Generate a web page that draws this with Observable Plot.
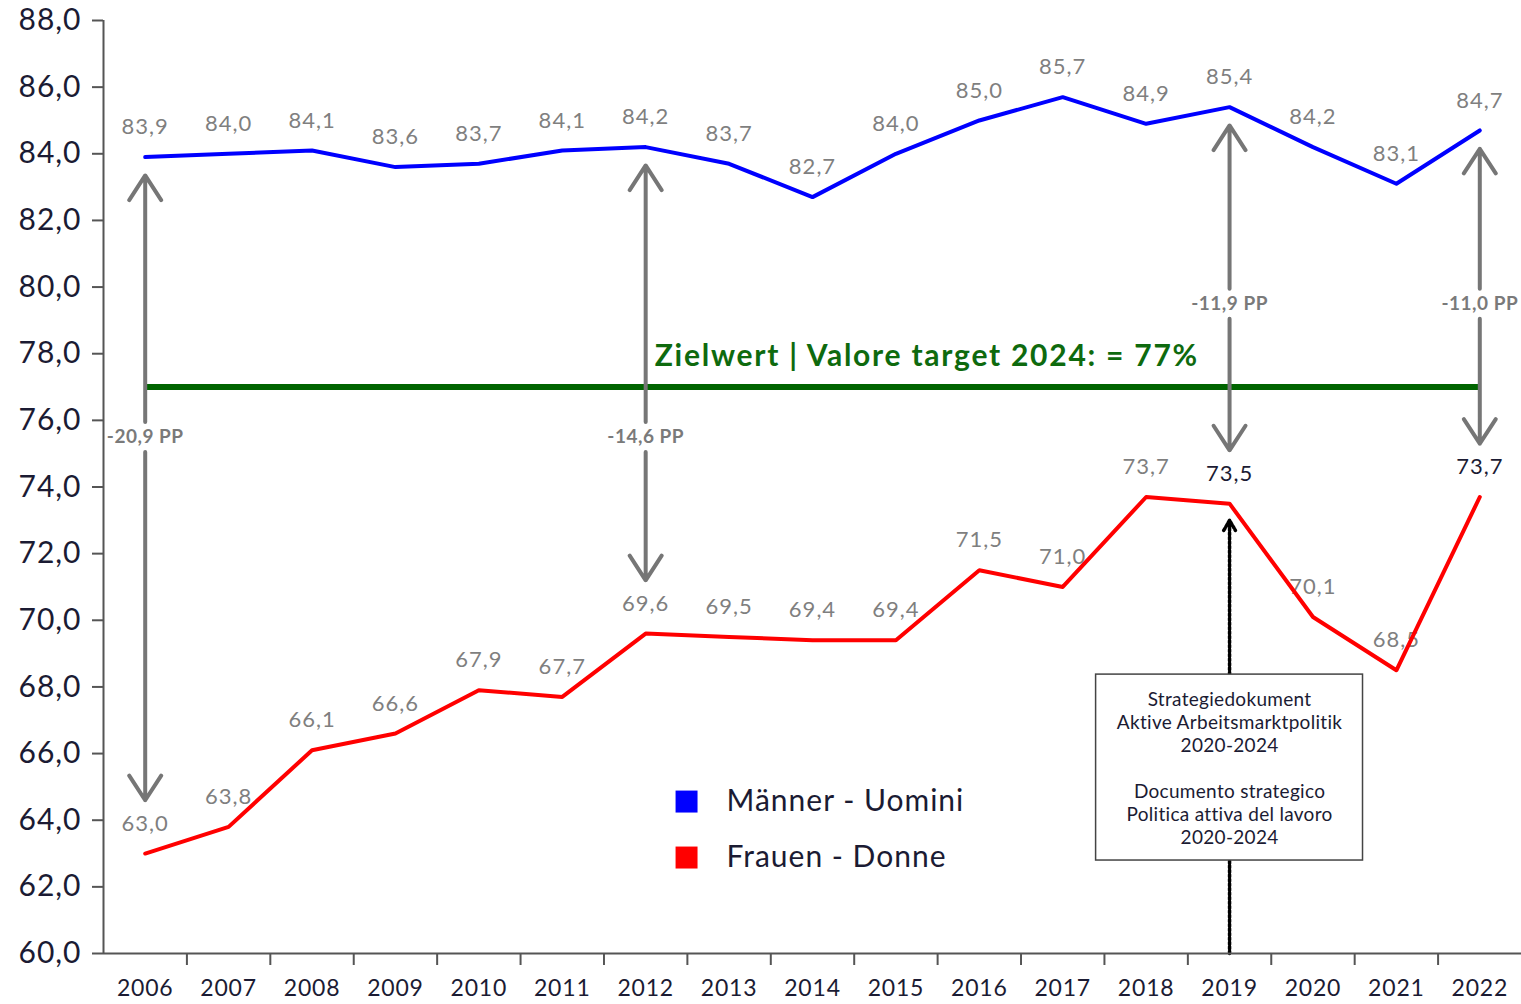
<!DOCTYPE html>
<html><head><meta charset="utf-8">
<script src="https://cdn.jsdelivr.net/npm/d3@7"></script>
<script src="https://cdn.jsdelivr.net/npm/@observablehq/plot@0.6"></script>
<style>
body{margin:0;background:#fff} svg{display:block}
svg text{letter-spacing:1px}
.ls-target text{letter-spacing:1.75px}
.ls-gap text{letter-spacing:0.5px}
.ls-box text{letter-spacing:0.3px}
.ls-x text{letter-spacing:0.8px}
</style>
</head><body><div id="chart"></div>
<script>
const years = [2006,2007,2008,2009,2010,2011,2012,2013,2014,2015,2016,2017,2018,2019,2020,2021,2022];
const maleValues = [83.9,84.0,84.1,83.6,83.7,84.1,84.2,83.7,82.7,84.0,85.0,85.7,84.9,85.4,84.2,83.1,84.7];
const femaleValues = [63.0,63.8,66.1,66.6,67.9,67.7,69.6,69.5,69.4,69.4,71.5,71.0,73.7,73.5,70.1,68.5,73.7];
const yTicks = [60,62,64,66,68,70,72,74,76,78,80,82,84,86,88];
const targetValue = 77;
const targetLabel = "Zielwert | Valore target 2024: = 77%";
const gapYears = [2006, 2012, 2019, 2022];
const gapLabels = ["-20,9 PP", "-14,6 PP", "-11,9 PP", "-11,0 PP"];
const gapLabelLevels = [75.5, 75.5, 79.5, 79.5];
const highlightYears = [2019, 2022];
const strategyYear = 2019;
const strategyText = "Strategiedokument\nAktive Arbeitsmarktpolitik\n2020-2024\n\nDocumento strategico\nPolitica attiva del lavoro\n2020-2024";
const seriesNames = ["Männer - Uomini", "Frauen - Donne"];
const seriesColors = ["#0000ff", "#ff0000"];

const FONT = "Lato, 'Open Sans', sans-serif";
const fmt = v => v.toFixed(1).replace(".", ",");
const male = years.map((y, i) => ({year: y, value: maleValues[i], series: seriesNames[0]}));
const female = years.map((y, i) => ({year: y, value: femaleValues[i], series: seriesNames[1]}));
const gaps = gapYears.map((y, i) => ({
  year: y, label: gapLabels[i], level: gapLabelLevels[i],
  male: maleValues[years.indexOf(y)], female: femaleValues[years.indexOf(y)]
}));
const boundaries = years.slice(0, -1).map(y => y + 0.5);
const xMin = years[0] - 0.5, xMax = years[years.length - 1] + 0.5;
const legend = seriesNames.map((n, i) => ({name: n, color: seriesColors[i], row: i}));
const legendX = 2012.49, legendY0 = 64.56, legendStep = 1.68;
const sFemale = femaleValues[years.indexOf(strategyYear)];

const labelFill = (d) => highlightYears.includes(d.year) && d.series === seriesNames[1] ? "#1b1b33" : "#7f7f7f";

const chart = Plot.plot({
  width: 1521, height: 1004,
  marginLeft: 103, marginRight: 0, marginTop: 20, marginBottom: 51,
  style: {fontFamily: FONT, background: "#fff"},
  x: {domain: [xMin, xMax]},
  y: {domain: [60, 88]},
  marks: [
    Plot.ruleY([targetValue], {x1: years[0], x2: years[years.length - 1], stroke: "#006400", strokeWidth: 6}),
    Plot.text([targetLabel], {x: gapYears[1], y: targetValue, dx: 9, dy: -31, text: d => d, textAnchor: "start",
      fill: "#0e6a0e", fontSize: 30, fontWeight: "bold", className: "ls-target"}),
    // gap arrows (upper to men, lower to women)
    Plot.arrow(gaps, {x1: "year", x2: "year", y1: d => d.level + 0.45, y2: d => d.male - 0.55,
      stroke: "#767676", strokeWidth: 4, headLength: 11, headAngle: 66}),
    Plot.arrow(gaps, {x1: "year", x2: "year", y1: d => d.level - 0.45, y2: d => d.female + 1.6,
      stroke: "#767676", strokeWidth: 4, headLength: 11, headAngle: 66}),
    Plot.text(gaps, {x: "year", y: "level", text: "label", fill: "#7a7a7a", fontSize: 19, fontWeight: "bold", className: "ls-gap"}),
    // strategy document arrow + box
    Plot.arrow([strategyYear], {x1: d => d, x2: d => d, y1: 60, y2: sFemale - 0.5,
      stroke: "#000", strokeWidth: 3.5, strokeDasharray: "2.5,2", headLength: 5, headAngle: 60}),
    Plot.rect([strategyYear], {x1: d => d - 1.6, x2: d => d + 1.6, y1: 62.79, y2: 68.37,
      fill: "#fff", stroke: "#444", strokeWidth: 1.5}),
    Plot.text([strategyText], {x: strategyYear, y: 65.58, text: d => d, fontSize: 19, lineHeight: 1.21,
      fill: "#1b1b33", className: "ls-box"}),
    // value labels
    Plot.text(male, {x: "year", y: "value", text: d => fmt(d.value), dy: -30, fill: labelFill, fontSize: 22}),
    Plot.text(female, {x: "year", y: "value", text: d => fmt(d.value), dy: -30, fill: labelFill, fontSize: 22}),
    // lines
    Plot.line(male, {x: "year", y: "value", stroke: seriesColors[0], strokeWidth: 4}),
    Plot.line(female, {x: "year", y: "value", stroke: seriesColors[1], strokeWidth: 4}),
    // legend
    Plot.dot(legend, {x: legendX, y: d => legendY0 - d.row * legendStep, symbol: "square", r: 12.4, fill: "color"}),
    Plot.text(legend, {x: legendX, y: d => legendY0 - d.row * legendStep, text: "name", dx: 40, textAnchor: "start",
      fill: "#1b1b33", fontSize: 30}),
    // axes
    Plot.ruleX([xMin], {stroke: "#555", strokeWidth: 2}),
    Plot.ruleY([60], {stroke: "#555", strokeWidth: 2}),
    Plot.axisY({ticks: yTicks, tickFormat: fmt, tickSize: 11, tickPadding: 11, fontSize: 30, stroke: "#555",
      strokeWidth: 2, color: "#1b1b33", label: null}),
    Plot.axisX({ticks: years, tickFormat: d => String(d), tickSize: 0, tickPadding: 26, fontSize: 23,
      color: "#1b1b33", label: null, className: "ls-x"}),
    Plot.axisX({ticks: boundaries, tickFormat: () => "", tickSize: 12, stroke: "#555", strokeWidth: 2, label: null})
  ]
});
document.getElementById("chart").append(chart);
</script>
</body></html>
